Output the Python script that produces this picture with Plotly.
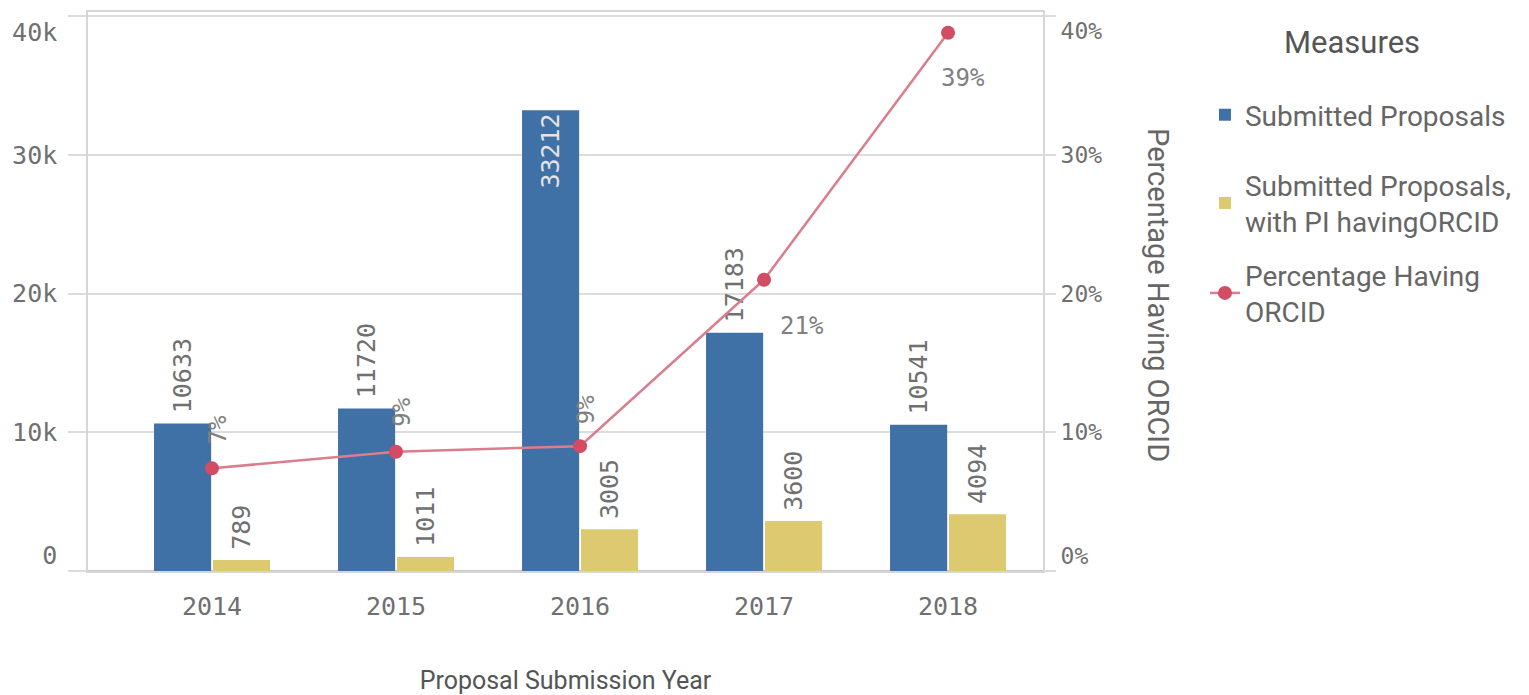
import plotly.graph_objects as go

years = ["2014", "2015", "2016", "2017", "2018"]
submitted = [10633, 11720, 33212, 17183, 10541]
with_orcid = [789, 1011, 3005, 3600, 4094]
pct_orcid = [0.074, 0.086, 0.090, 0.210, 0.388]
pct_labels = ["7%", "9%", "9%", "21%", "39%"]

y_ticks = [0, 10000, 20000, 30000, 40000]
y_ticktext = ["0<br>\u00a0", "10k", "20k", "30k", "\u00a0<br>40k"]
y2_ticks = [0, 0.1, 0.2, 0.3, 0.4]
y2_ticktext = ["0%<br>\u00a0", "10%", "20%", "30%", "\u00a0<br>40%"]

BLUE = "#3f70a6"
YELLOW = "#dcc970"
LINE = "#da7d8c"
MARK = "#d24c64"
GRAY = "#707070"
MONO = "DejaVu Sans Mono"
SANS = "Roboto"
PAD = '<span style="font-size:12px">\u00a0</span>'

fig = go.Figure()

fig.add_trace(go.Bar(
    x=years, y=submitted, name="Submitted Proposals",
    marker=dict(color=BLUE, line=dict(width=0)),
    text=[PAD + str(v) for v in submitted],
    textposition=["outside", "outside", "inside", "outside", "outside"],
    insidetextanchor="end",
    textangle=-90,
    constraintext="none",
    textfont=dict(family=MONO, size=25, color=GRAY),
    insidetextfont=dict(family=MONO, size=25, color="#e4e4e4"),
    outsidetextfont=dict(family=MONO, size=25, color=GRAY),
    cliponaxis=False,
    legend="legend",
    showlegend=True,
))

fig.add_trace(go.Bar(
    x=years, y=with_orcid, name="Submitted Proposals,<br>with PI havingORCID",
    marker=dict(color=YELLOW, line=dict(width=0)),
    text=[PAD + str(v) for v in with_orcid],
    textposition="outside",
    textangle=-90,
    constraintext="none",
    textfont=dict(family=MONO, size=25, color=GRAY),
    cliponaxis=False,
    legend="legend2",
    showlegend=True,
))

fig.add_trace(go.Scatter(
    x=years, y=pct_orcid, name="Percentage Having<br>ORCID",
    mode="lines+markers", yaxis="y2",
    line=dict(color=LINE, width=2.5),
    marker=dict(color=MARK, size=14),
    cliponaxis=False,
    legend="legend3",
    showlegend=True,
))

# percentage labels (category index positions on x, values on y2)
offsets = [(6, 38, -90), (6, 39, -90), (6, 36, -90), (38, -46, 0), (15, -45, 0)]
for i, (p, lab, (dx, dy, ang)) in enumerate(zip(pct_orcid, pct_labels, offsets)):
    fig.add_annotation(
        x=i, y=p, xref="x", yref="y2", text=lab, showarrow=False,
        xshift=dx, yshift=dy, textangle=ang,
        font=dict(family=MONO, size=24, color="#808080"),
    )

# right axis title (reads top-to-bottom)
fig.add_annotation(
    x=1.1204, y=0.4937, xref="paper", yref="paper",
    xanchor="center", yanchor="middle",
    text="Percentage Having ORCID", showarrow=False, textangle=90,
    font=dict(family=SANS, size=29, color="#666666"),
)

# legend title
fig.add_annotation(
    x=1.3236, y=0.9463, xref="paper", yref="paper",
    xanchor="center", yanchor="middle",
    text="Measures", showarrow=False,
    font=dict(family=SANS, size=31, color="#555555"),
)

leg_common = dict(xanchor="left", yanchor="middle",
                  font=dict(family=SANS, size=28, color="#666666"),
                  bgcolor="rgba(0,0,0,0)")

fig.update_layout(
    width=1529, height=695,
    margin=dict(l=80, r=494, t=4, b=132, autoexpand=False),
    paper_bgcolor="white", plot_bgcolor="white",
    showlegend=True,
    barmode="group", bargap=0.36, bargroupgap=0.03,
    xaxis=dict(
        type="category", range=[-0.674, 4.516], automargin=False,
        showgrid=False, ticks="outside", ticklen=12, tickcolor="rgba(0,0,0,0)",
        showline=True, mirror=True, linecolor="#d6d6d6", linewidth=1.5,
        tickfont=dict(family=MONO, size=25, color=GRAY),
        title=dict(text="Proposal Submission Year", standoff=52,
                   font=dict(family=SANS, size=25, color="#555555")),
        zeroline=False,
    ),
    yaxis=dict(
        range=[0, 40300], tickvals=y_ticks, ticktext=y_ticktext, automargin=False,
        showgrid=True, gridcolor="#dcdcdc", gridwidth=1.5,
        ticks="outside", ticklen=18, tickcolor="#dcdcdc", tickwidth=1.5,
        ticklabelstandoff=6, ticklabeloverflow="allow",
        showline=True, mirror=True, linecolor="#d6d6d6", linewidth=1.5,
        zeroline=True, zerolinecolor="#c8c8c8", zerolinewidth=2,
        tickfont=dict(family=MONO, size=25, color=GRAY),
    ),
    yaxis2=dict(
        range=[0, 0.403], tickvals=y2_ticks, ticktext=y2_ticktext, automargin=False,
        overlaying="y", side="right", showgrid=False,
        ticks="outside", ticklen=12, tickcolor="#dcdcdc", tickwidth=1.5,
        ticklabeloverflow="allow",
        zeroline=False,
        tickfont=dict(family=MONO, size=23, color=GRAY),
    ),
    legend=dict(x=1.1696, y=0.8157, **leg_common),
    legend2=dict(x=1.1696, y=0.6583, **leg_common),
    legend3=dict(x=1.1696, y=0.4973, **leg_common),
)

fig.write_html("out.html")
